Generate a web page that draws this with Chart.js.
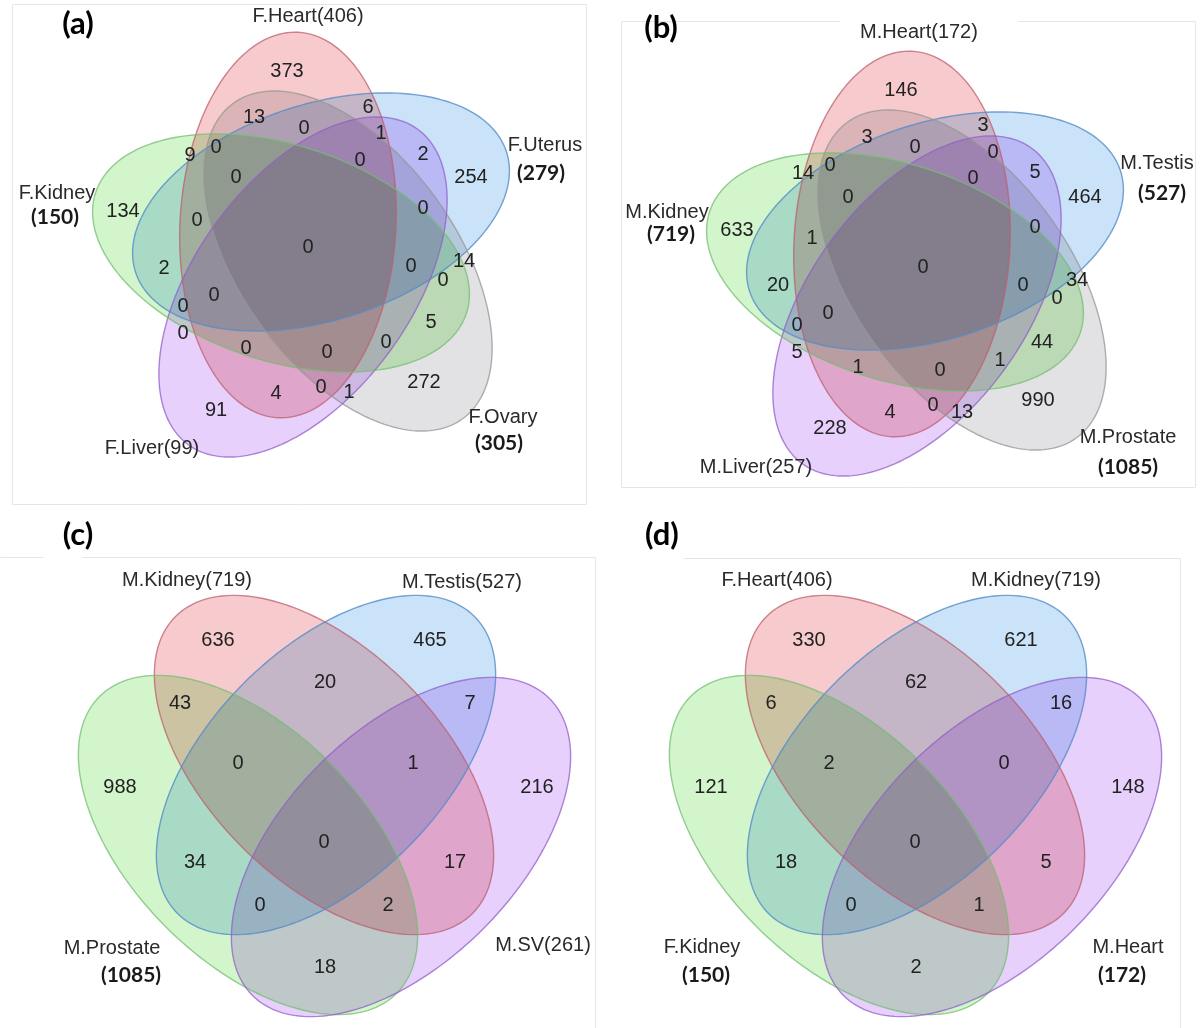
<!DOCTYPE html>
<html>
<head>
<meta charset="utf-8">
<script src="https://cdn.jsdelivr.net/npm/chart.js@4.4.1/dist/chart.umd.min.js"></script>
<style>
  html, body { margin: 0; padding: 0; background: #fff; }
  #wrap { position: relative; width: 1200px; height: 1028px; overflow: hidden; }
  canvas { position: absolute; }
</style>
</head>
<body>
<div id="wrap">
  <canvas id="venn-a" width="600" height="514" style="left:0;top:0"></canvas>
  <canvas id="venn-b" width="600" height="514" style="left:600px;top:0"></canvas>
  <canvas id="venn-c" width="600" height="514" style="left:0;top:514px"></canvas>
  <canvas id="venn-d" width="600" height="514" style="left:600px;top:514px"></canvas>
</div>
<script>
// ---- data: set names, set sizes, region counts ----
const aSets = ["F.Heart", "F.Uterus", "F.Ovary", "F.Liver", "F.Kidney"];
const aSetSizes = [406, 279, 305, 99, 150];
const aCounts = [373, 13, 6, 0, 1, 9, 0, 0, 2, 254, 0, 134, 0, 0, 0, 2, 0, 14, 0, 0, 0, 5, 0, 0, 0, 0, 272, 0, 4, 1, 91];

const bSets = ["M.Heart", "M.Testis", "M.Prostate", "M.Liver", "M.Kidney"];
const bSetSizes = [172, 527, 1085, 257, 719];
const bCounts = [146, 3, 3, 0, 0, 14, 0, 0, 5, 464, 0, 633, 0, 1, 0, 20, 0, 34, 0, 0, 0, 44, 5, 1, 1, 0, 990, 0, 13, 4, 228];

const cSets = ["M.Kidney", "M.Testis", "M.Prostate", "M.SV"];
const cSetSizes = [719, 527, 1085, 261];
const cCounts = [636, 465, 20, 43, 7, 0, 1, 988, 216, 0, 34, 17, 0, 2, 18];

const dSets = ["F.Heart", "M.Kidney", "F.Kidney", "M.Heart"];
const dSetSizes = [406, 719, 150, 172];
const dCounts = [330, 621, 62, 6, 16, 2, 0, 121, 148, 0, 18, 5, 0, 1, 2];

// ---- layout (page pixel units) ----
const aSpots = [[287,71],[254,117],[368,107],[304,128],[381,133],[190,155],[216,147],[360,160],[423,154],[471,177],[236,177],
  [123,211],[197,220],[423,208],[308,247],[164,268],[411,266],[464,261],[443,280],[214,295],[183,306],[431,322],[183,333],
  [386,342],[246,348],[327,352],[424,382],[321,387],[276,393],[349,392],[216,410]];
const bSpots = [[901,90],[867,137],[983,125],[915,147],[993,152],[803,173],[830,165],[973,178],[1035,172],[1085,197],[848,197],
  [737,230],[1035,227],[812,238],[923,267],[778,285],[1023,285],[1077,280],[1057,298],[828,313],[797,325],[1042,342],
  [797,352],[858,367],[1000,360],[940,370],[1038,400],[933,405],[962,412],[890,412],[830,428]];
const cSpots = [[218,640],[430,640],[325,682],[180,703],[470,703],[238,763],[413,763],[120,787],[537,787],[324,842],
  [195,862],[455,862],[260,905],[388,905],[325,967]];
const dSpots = cSpots.map(p => [p[0] + 591, p[1]]);

const aLabelPos = [[308,16],[545,145,541,173],[503,417,499,443],[152,448],[57,193,55,217]];
const bLabelPos = [[919,32],[1157,163,1162,193],[1128,437,1128,467],[756,467],[667,212,671,234]];
const cLabelPos = [[187,580],[462,582],[112,948,131,975],[543,945]];
const dLabelPos = [[777,580],[1036,580],[702,947,706,975],[1128,947,1122,975]];

const RED = { fill: "rgb(247,203,205)", line: "rgba(190,95,110,0.75)" };
const BLUE = { fill: "rgb(203,227,248)", line: "rgba(85,140,200,0.8)" };
const GREEN = { fill: "rgb(211,245,203)", line: "rgba(115,190,115,0.75)" };
const PURPLE = { fill: "rgb(231,208,252)", line: "rgba(145,95,200,0.75)" };
const GRAY = { fill: "rgb(226,226,228)", line: "rgba(150,150,150,0.75)" };

const fiveShapes = [
  { cx: 288, cy: 225, a: 193, b: 108, rot: 93, col: RED },
  { cx: 321, cy: 212, a: 195, b: 108, rot: -18, col: BLUE },
  { cx: 348, cy: 261, a: 195, b: 108, rot: 54, col: GRAY },
  { cx: 303, cy: 287, a: 195, b: 108, rot: -54, col: PURPLE },
  { cx: 281, cy: 253, a: 195, b: 108, rot: 18, col: GREEN }
];
const fourShapes = [
  { cx: 324, cy: 765, a: 210, b: 116, rot: 45, col: RED },
  { cx: 326, cy: 765, a: 210, b: 116, rot: -45, col: BLUE },
  { cx: 248, cy: 845, a: 210, b: 116, rot: 45, col: GREEN },
  { cx: 401, cy: 847, a: 210, b: 116, rot: -45, col: PURPLE }
];
function shift(shapes, dx, dy) {
  return shapes.map(s => Object.assign({}, s, { cx: s.cx + dx, cy: s.cy + dy }));
}

const aFrame = [[12,4,586,4],[12,4,12,504],[12,504,586,504],[586,4,586,504]];
const bFrame = [[621,21,840,21],[1018,21,1195,21],[621,21,621,487],[621,487,1195,487],[1195,21,1195,487]];
const cFrame = [[0,557,43,557],[82,557,595,557],[595,557,595,1028]];
const dFrame = [[683,558,1180,558],[1180,558,1180,1028]];

const NUM_FONT = "20px 'Liberation Sans', Arial, sans-serif";
const BOLD_FONT = "bold 21px Lato, 'Open Sans', sans-serif";
const TAG_FONT = "bold 31px Lato, 'Open Sans', sans-serif";

const vennPlugin = {
  id: "venn",
  beforeDraw(chart) {
    const ctx = chart.ctx;
    ctx.save();
    ctx.fillStyle = "#fff";
    ctx.fillRect(0, 0, chart.width, chart.height);
    ctx.restore();
  },
  beforeDatasetsDraw(chart) {
    const { ctx, scales: { x, y } } = chart;
    const cfg = chart.options.plugins.venn;

    // frame
    ctx.save();
    ctx.strokeStyle = "#e6e6e6";
    ctx.lineWidth = 1;
    cfg.frame.forEach(f => {
      ctx.beginPath();
      ctx.moveTo(x.getPixelForValue(f[0]) + 0.5, y.getPixelForValue(f[1]) + 0.5);
      ctx.lineTo(x.getPixelForValue(f[2]) + 0.5, y.getPixelForValue(f[3]) + 0.5);
      ctx.stroke();
    });
    ctx.restore();

    const trace = e => {
      const c = Math.cos(e.rot * Math.PI / 180), s = Math.sin(e.rot * Math.PI / 180);
      ctx.beginPath();
      for (let i = 0; i <= 180; i++) {
        const t = i / 180 * Math.PI * 2;
        const dx = e.a * Math.cos(t), dy = e.b * Math.sin(t);
        const px = x.getPixelForValue(e.cx + dx * c - dy * s);
        const py = y.getPixelForValue(e.cy + dx * s + dy * c);
        if (i === 0) ctx.moveTo(px, py); else ctx.lineTo(px, py);
      }
      ctx.closePath();
    };

    // fills multiply so the overlaps darken like the original figure
    ctx.save();
    ctx.globalCompositeOperation = "multiply";
    cfg.shapes.forEach(e => { trace(e); ctx.fillStyle = e.col.fill; ctx.fill(); });
    ctx.restore();

    ctx.save();
    ctx.lineWidth = 1.4;
    cfg.shapes.forEach(e => { trace(e); ctx.strokeStyle = e.col.line; ctx.stroke(); });
    ctx.restore();
  },
  afterDatasetsDraw(chart) {
    const { ctx, scales: { x, y } } = chart;
    const cfg = chart.options.plugins.venn;
    const meta = chart.getDatasetMeta(0);

    ctx.save();
    ctx.textAlign = "center";
    ctx.textBaseline = "middle";
    ctx.fillStyle = "#222";
    ctx.font = NUM_FONT;
    meta.data.forEach((pt, i) => {
      ctx.fillText(String(cfg.counts[i]), pt.x, pt.y);
    });

    cfg.names.forEach((name, i) => {
      const p = cfg.labelPos[i];
      ctx.fillStyle = "#2a2a2a";
      if (p.length === 2) {
        ctx.font = NUM_FONT;
        ctx.fillText(name + "(" + cfg.sizes[i] + ")", x.getPixelForValue(p[0]), y.getPixelForValue(p[1]));
      } else {
        ctx.font = NUM_FONT;
        ctx.fillText(name, x.getPixelForValue(p[0]), y.getPixelForValue(p[1]));
        ctx.font = BOLD_FONT;
        ctx.fillStyle = "#1a1a1a";
        ctx.fillText("(" + cfg.sizes[i] + ")", x.getPixelForValue(p[2]), y.getPixelForValue(p[3]));
      }
    });

    ctx.font = TAG_FONT;
    ctx.fillStyle = "#000";
    ctx.fillText(cfg.tag[0], x.getPixelForValue(cfg.tag[1]), y.getPixelForValue(cfg.tag[2]));
    ctx.restore();
  }
};

function makePanel(id, x0, y0, opts) {
  return new Chart(document.getElementById(id), {
    type: "scatter",
    data: {
      datasets: [{
        data: opts.spots.map(p => ({ x: p[0], y: p[1] })),
        pointRadius: 0,
        pointHoverRadius: 0
      }]
    },
    options: {
      responsive: false,
      animation: false,
      events: [],
      layout: { padding: 0 },
      scales: {
        x: { type: "linear", display: false, bounds: "data", min: x0, max: x0 + 600 },
        y: { type: "linear", display: false, bounds: "data", min: y0, max: y0 + 514, reverse: true }
      },
      plugins: {
        legend: { display: false },
        tooltip: { enabled: false },
        venn: opts
      }
    },
    plugins: [vennPlugin]
  });
}

makePanel("venn-a", 0, 0, {
  shapes: fiveShapes, counts: aCounts, spots: aSpots, names: aSets, sizes: aSetSizes,
  labelPos: aLabelPos, tag: ["(a)", 78, 24], frame: aFrame
});
makePanel("venn-b", 600, 0, {
  shapes: shift(fiveShapes, 614, 19), counts: bCounts, spots: bSpots, names: bSets, sizes: bSetSizes,
  labelPos: bLabelPos, tag: ["(b)", 661, 28], frame: bFrame
});
makePanel("venn-c", 0, 514, {
  shapes: fourShapes, counts: cCounts, spots: cSpots, names: cSets, sizes: cSetSizes,
  labelPos: cLabelPos, tag: ["(c)", 78, 535], frame: cFrame
});
makePanel("venn-d", 600, 514, {
  shapes: shift(fourShapes, 591, 0), counts: dCounts, spots: dSpots, names: dSets, sizes: dSetSizes,
  labelPos: dLabelPos, tag: ["(d)", 662, 535], frame: dFrame
});
</script>
</body>
</html>
